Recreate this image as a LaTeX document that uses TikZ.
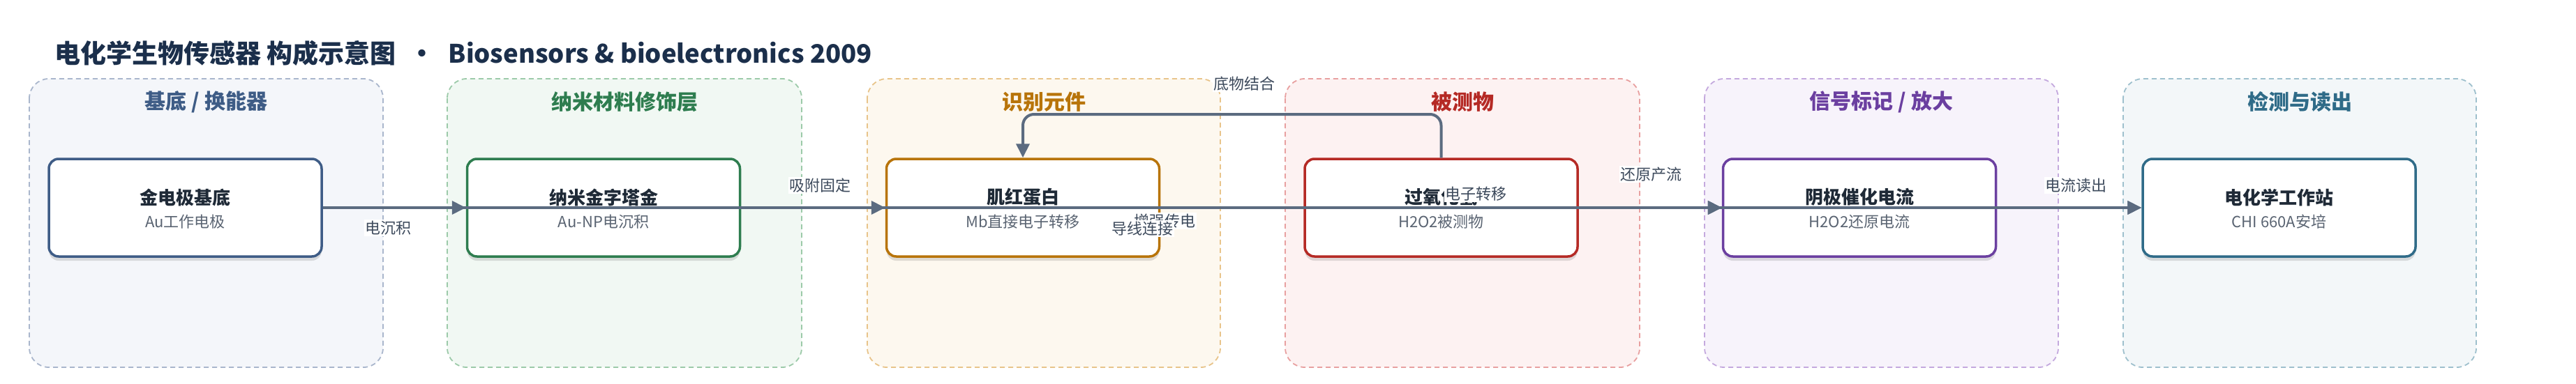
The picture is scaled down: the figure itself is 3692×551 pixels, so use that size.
\documentclass[tikz,border=0pt]{standalone}
\usepackage{fontspec}
\setmainfont{Noto Sans CJK SC}
\usetikzlibrary{shadows,arrows.meta}
\definecolor{bA}{HTML}{3E5C86}\definecolor{fA}{HTML}{F4F6FA}\definecolor{dA}{HTML}{A9B6CC}
\definecolor{bB}{HTML}{2E7D4F}\definecolor{fB}{HTML}{F1F8F3}\definecolor{dB}{HTML}{9CCAA9}
\definecolor{bC}{HTML}{B8740A}\definecolor{fC}{HTML}{FDF8EF}\definecolor{dC}{HTML}{E8C48A}
\definecolor{bD}{HTML}{B52A25}\definecolor{fD}{HTML}{FDF2F2}\definecolor{dD}{HTML}{E8A0A0}
\definecolor{bE}{HTML}{6B3FA0}\definecolor{fE}{HTML}{F7F3FB}\definecolor{dE}{HTML}{C4A9DE}
\definecolor{bF}{HTML}{2F6B88}\definecolor{fF}{HTML}{F3F7F9}\definecolor{dF}{HTML}{9EC0CD}
\definecolor{ttext}{HTML}{1B2F4B}
\definecolor{ntext}{HTML}{1F2A37}
\definecolor{stext}{HTML}{5A6472}
\definecolor{ltext}{HTML}{3D4A5C}
\definecolor{wire}{HTML}{5B6B80}
\tikzset{
  panel/.style={draw, dashed, dash pattern=on 7pt off 5pt, line width=1.8pt, rounded corners=28pt},
  boxnode/.style={draw=#1, line width=3.5pt, fill=white, rounded corners=14pt,
     minimum width=391pt, minimum height=140pt, inner sep=0pt,
     drop shadow={shadow xshift=0pt, shadow yshift=-6pt, opacity=0.12, fill=black}},
  ptitle/.style={font=\fontsize{30}{36}\selectfont\bfseries, text=#1, inner sep=0pt},
  ntitle/.style={font=\fontsize{26}{30}\selectfont\bfseries, text=ntext, inner sep=0pt},
  nsub/.style={font=\fontsize{22}{26}\selectfont, text=stext, inner sep=0pt},
  elabel/.style={font=\fontsize{22}{26}\selectfont, text=ltext, fill=white, inner sep=1.5pt},
  edge/.style={draw=wire, line width=4pt, -{Triangle[length=20pt,width=19pt]}},
}
\begin{document}
\begin{tikzpicture}[x=1pt,y=-1pt]
\useasboundingbox (0,0) rectangle (3692,551);
\fill[white] (0,0) rectangle (3692,551);
% title
\node[anchor=west, inner sep=0pt, text=ttext, font=\fontsize{37}{42}\selectfont\bfseries] (title) at (78,76)
  {电化学生物传感器 构成示意图\hspace{19pt}•\hspace{19pt}{\fontsize{36.5}{42}\selectfont Biosensors \& bioelectronics 2009}};
% panels
\draw[panel, draw=dA, fill=fA] (42,113) rectangle (549,527);
\draw[panel, draw=dB, fill=fB] (641,113) rectangle (1149,527);
\draw[panel, draw=dC, fill=fC] (1243,113) rectangle (1749,527);
\draw[panel, draw=dD, fill=fD] (1842,113) rectangle (2350,527);
\draw[panel, draw=dE, fill=fE] (2443,113) rectangle (2950,527);
\draw[panel, draw=dF, fill=fF] (3043,113) rectangle (3549,527);
\node[ptitle=bA] (pa) at (295.5,146) {基底 / 换能器};
\node[ptitle=bB] (pb) at (895,146) {纳米材料修饰层};
\node[ptitle=bC] (pc) at (1496,146) {识别元件};
\node[ptitle=bD] (pd) at (2096,146) {被测物};
\node[ptitle=bE] (pe) at (2696.5,146) {信号标记 / 放大};
\node[ptitle=bF] (pf) at (3296,146) {检测与读出};
% boxes
\node[boxnode=bA] (a) at (265.5,298) {};
\node[boxnode=bB] (b) at (865,298) {};
\node[boxnode=bC] (c) at (1466,298) {};
\node[boxnode=bD] (d) at (2065.5,298) {};
\node[boxnode=bE] (e) at (2665,298) {};
\node[boxnode=bF] (f) at (3266.5,298) {};
\node[ntitle] (at) at (265.5,283) {金电极基底};
\node[nsub] (as) at (265.5,318) {Au工作电极};
\node[ntitle] (bt) at (865,283) {纳米金字塔金};
\node[nsub] (bs) at (865,318) {Au-NP电沉积};
\node[ntitle] (ct) at (1466,283) {肌红蛋白};
\node[nsub] (cs) at (1466,318) {Mb直接电子转移};
\node[ntitle] (dt) at (2065.5,283) {过氧化氢};
\node[nsub] (ds) at (2065.5,318) {H2O2被测物};
\node[ntitle] (et) at (2665,283) {阴极催化电流};
\node[nsub] (es) at (2665,318) {H2O2还原电流};
\node[ntitle] (ft) at (3266.5,283) {电化学工作站};
\node[nsub] (fs) at (3266.5,318) {CHI 660A安培};
% connectors
\coordinate (topy) at (0,164);
\draw[edge] (a.east) -- (b.west);
\draw[edge] (b.east) -- (c.west);
\draw[edge] (a.east) -- (f.west);
\draw[edge] (b.east) -- (e.west);
\draw[edge] (c.east) -- (e.west);
\draw[edge] (d.east) -- (e.west);
\draw[edge] (e.east) -- (f.west);
\draw[edge, rounded corners=16pt] (d.north) -- (d.north |- topy) -- (c.north |- topy) -- (c.north);
% labels
\node[elabel] (l1) at (556,327) {电沉积};
\node[elabel] (l2) at (1175,266) {吸附固定};
\node[elabel] (l3) at (1783,120) {底物结合};
\node[elabel] (l4) at (1669,317) {增强传电};
\node[elabel] (l5) at (1637,328) {导线连接};
\node[elabel] (l6) at (2115,278) {电子转移};
\node[elabel] (l7) at (2366,250) {还原产流};
\node[elabel] (l8) at (2975,266) {电流读出};
\end{tikzpicture}
\end{document}
